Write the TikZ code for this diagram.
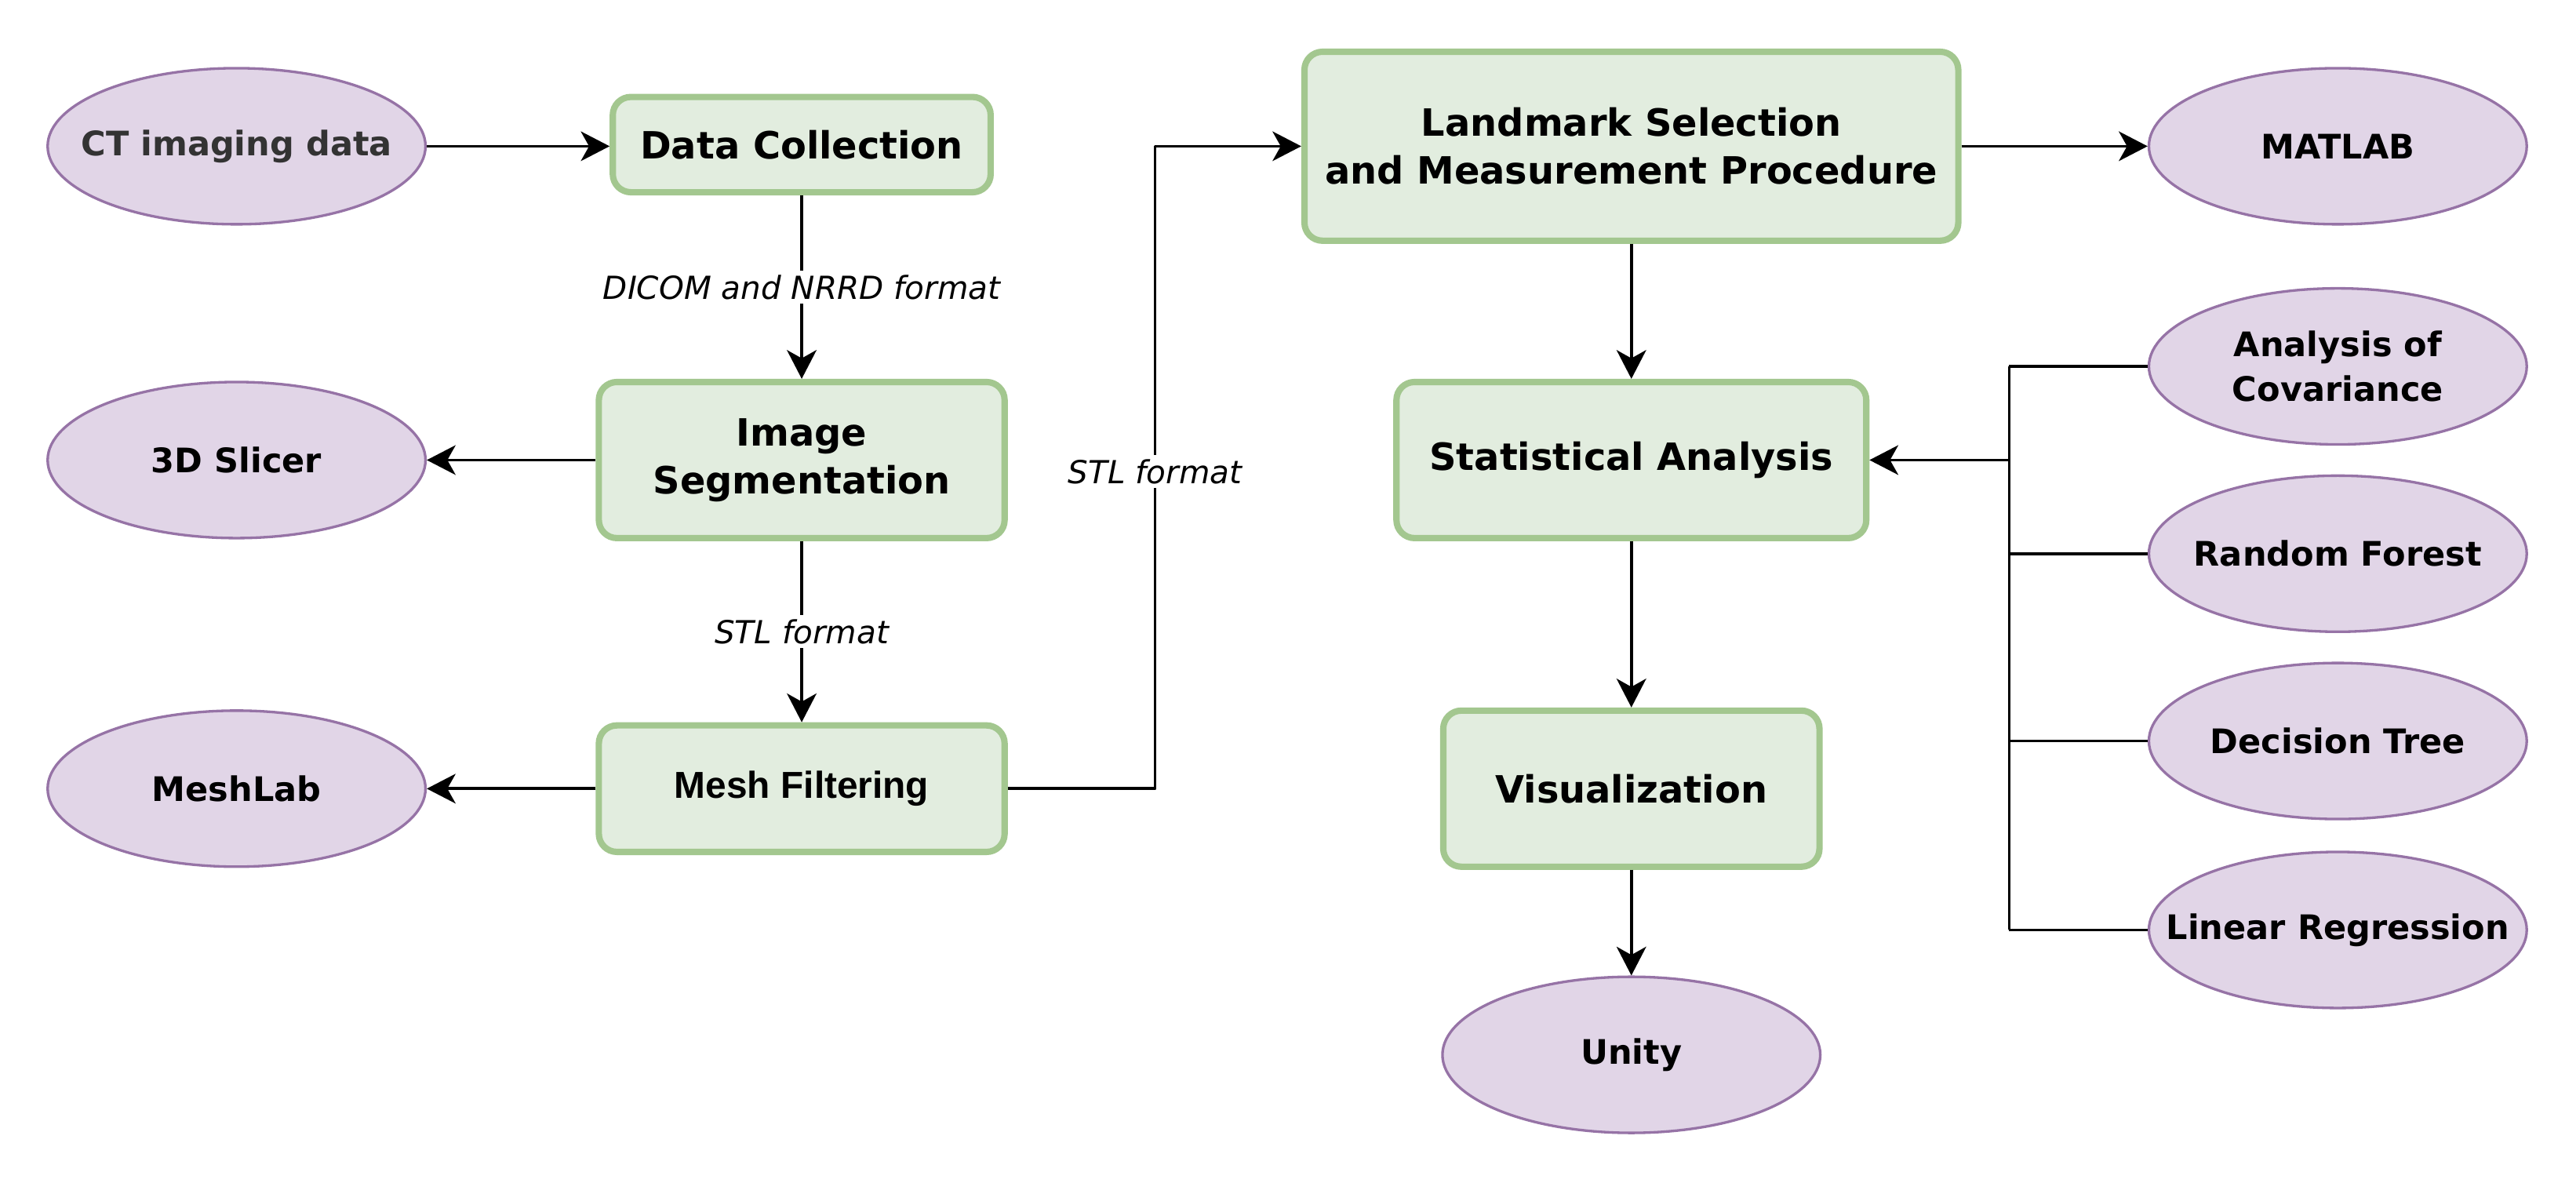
\documentclass[tikz,border=0pt]{standalone}
\usepackage{fontspec}
\setmainfont{DejaVu Sans}[ItalicFont={* Oblique}, BoldFont={* Bold}]
\newfontfamily\arialfont{Liberation Sans}
\usetikzlibrary{shapes.geometric,arrows.meta}
\definecolor{stepfill}{HTML}{E2EDDF}
\definecolor{stepline}{HTML}{A3C78F}
\definecolor{toolfill}{HTML}{E1D5E7}
\definecolor{toolline}{HTML}{9673A6}
\definecolor{darktext}{HTML}{333333}
\begin{document}
\begin{tikzpicture}[line join=round, >={Stealth[length=3.5mm,width=3.6mm,inset=1mm]},
	stepbox/.style={draw=stepline, fill=stepfill, line width=2.2pt, rounded corners=0.22cm, align=center, font=\fontsize{13}{16.5}\selectfont\bfseries},
	tool/.style={ellipse, draw=toolline, fill=toolfill, line width=0.9pt, minimum width=4.6cm, minimum height=1.9cm, inner xsep=-1cm, align=center, font=\fontsize{11.7}{15.4}\selectfont\bfseries},
	flow/.style={->, line width=1pt},
	wire/.style={line width=1pt},
	lbl/.style={fill=white, inner sep=1.5pt, font=\fontsize{11}{13}\selectfont\itshape}]
	\useasboundingbox (0,0) rectangle (31.36,-14.4);
	% left column
	\node[tool, text=darktext] (ct) at (2.88,-1.78) {CT imaging data};
	\node[tool] (slicer) at (2.88,-5.60) {3D Slicer};
	\node[tool] (meshlab) at (2.88,-9.60) {MeshLab};
	\node[stepbox, minimum width=4.6cm, minimum height=1.16cm] (dc) at (9.76,-1.76) {Data Collection};
	\node[stepbox, minimum width=4.94cm, minimum height=1.9cm] (seg) at (9.76,-5.60) {Image\\Segmentation};
	\node[stepbox, minimum width=4.94cm, minimum height=1.54cm, font=\fontsize{13}{15}\selectfont\arialfont\bfseries] (mesh) at (9.76,-9.60) {Mesh Filtering};
	% right part
	\node[stepbox, minimum width=7.96cm, minimum height=2.3cm] (lm) at (19.86,-1.78) {Landmark Selection\\and Measurement Procedure};
	\node[stepbox, minimum width=5.72cm, minimum height=1.9cm] (stat) at (19.86,-5.60) {Statistical Analysis};
	\node[stepbox, minimum width=4.58cm, minimum height=1.9cm] (vis) at (19.86,-9.60) {Visualization};
	\node[tool] (unity) at (19.86,-12.84) {Unity};
	\node[tool] (matlab) at (28.46,-1.78) {MATLAB};
	\node[tool] (anc) at (28.46,-4.46) {Analysis of\\Covariance};
	\node[tool] (rf) at (28.46,-6.74) {Random Forest};
	\node[tool] (dt) at (28.46,-9.02) {Decision Tree};
	\node[tool] (lr) at (28.46,-11.32) {Linear Regression};
	\coordinate (bend) at (14.06,-5.74);
	\coordinate (bus) at (24.46,-5.60);
	% connectors
	\draw[flow] (ct) -- (dc.west |- ct);
	\draw[flow] (dc) -- (seg) node[lbl, midway] {DICOM and NRRD format};
	\draw[flow] (seg) -- (slicer);
	\draw[flow] (seg) -- (mesh) node[lbl, midway] {STL format};
	\draw[flow] (mesh) -- (meshlab);
	\draw[flow] (mesh.east) -| (bend) |- (lm.west);
	\node[lbl] at (bend) {STL format};
	\draw[flow] (lm) -- (matlab);
	\draw[flow] (lm) -- (stat);
	\draw[flow] (stat) -- (vis);
	\draw[flow] (vis) -- (unity);
	\foreach \m in {anc,rf,dt,lr} \draw[wire] (\m.west) -- (\m.west -| bus);
	\draw[wire] (anc.west -| bus) -- (lr.west -| bus);
	\draw[flow] (bus) -- (stat.east);
\end{tikzpicture}
\end{document}
